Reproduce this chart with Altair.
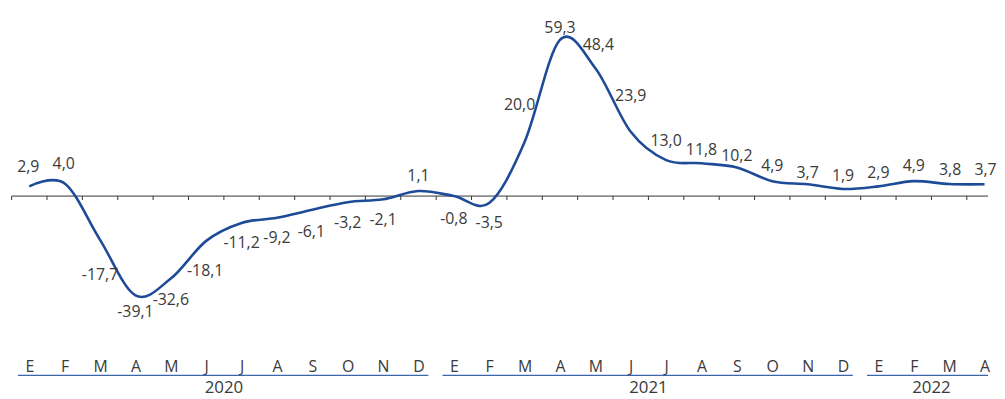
import altair as alt
import pandas as pd

# ---------------- data ----------------
months = ["E", "F", "M", "A", "M", "J", "J", "A", "S", "O", "N", "D",
          "E", "F", "M", "A", "M", "J", "J", "A", "S", "O", "N", "D",
          "E", "F", "M", "A"]
years = ["2020"] * 12 + ["2021"] * 12 + ["2022"] * 4
values = [2.9, 4.0, -17.7, -39.1, -32.6, -18.1, -11.2, -9.2, -6.1, -3.2, -2.1, 1.1,
          -0.8, -3.5, 20.0, 59.3, 48.4, 23.9, 13.0, 11.8, 10.2, 4.9, 3.7, 1.9,
          2.9, 4.9, 3.8, 3.7]
year_labels = ["2020", "2021", "2022"]

# ---------------- style ----------------
W, H = 989, 347
PX_X = 35.7          # pixels per month
PX_Y = 2.62          # pixels per unit
FIRST_X = 21.5       # px from plot left to first month centre
ZERO_Y = 185.8       # px from plot top to value 0
AXIS_Y = 188.0       # px from plot top to the category axis line
LINE_COLOR = "#1E4B98"
YEAR_COLOR = "#3C66AC"
TEXT_COLOR = "#3A3A3A"
FONT = "Open Sans"
FS = 16
FS_YEAR = 17

x_dom = [-FIRST_X / PX_X, (W - FIRST_X) / PX_X]
y_dom = [-(H - ZERO_Y) / PX_Y, ZERO_Y / PX_Y]

def py(px_from_top):
    """pixel row (plot coords) -> data value"""
    return (ZERO_Y - px_from_top) / PX_Y

# label offsets in pixels (dx, dy) relative to each point
label_offsets = [(-1, -19), (-1, -20), (0, 36), (0, 17), (0, 22), (-1, 30),
                 (0, 20), (0, 20), (-1, 23), (0, 21), (0, 21), (0, -15),
                 (0, 23), (0, 20), (-5, -37), (0, -12), (3, -23), (0, -36),
                 (0, -19), (0, -13), (0, -11), (0, -15), (0, -11), (0, -13),
                 (0, -13), (0, -15), (1, -14), (1, -14)]

n = len(values)
rows = []
for i, (m, yv, v) in enumerate(zip(months, years, values)):
    dx, dy = label_offsets[i]
    rows.append({"idx": i, "month": m, "year": yv, "value": v,
                 "label": f"{v:.1f}".replace(".", ","),
                 "lx": i + dx / PX_X, "ly": v - dy / PX_Y})
df = pd.DataFrame(rows)

ticks_df = pd.DataFrame({"b": [i - 0.5 for i in range(n)]})
zero_df = pd.DataFrame({"x": [-0.5], "x2": [n - 0.5]})

yr_rows = []
for y in year_labels:
    ids = [i for i, yy in enumerate(years) if yy == y]
    yr_rows.append({"year": y, "start": ids[0] - 0.32,
                    "end": min(ids[-1] + 0.28, x_dom[1]),
                    "center": (ids[0] + ids[-1]) / 2})
yr_df = pd.DataFrame(yr_rows)

xs = alt.Scale(domain=x_dom, nice=False, zero=False)
ys = alt.Scale(domain=y_dom, nice=False, zero=False)

month_str = "".join(months)
label_expr = f"substring('{month_str}', datum.value, datum.value + 1)"

AX = alt.Axis(values=list(range(n)), labelExpr=label_expr, ticks=False,
              tickSize=0, domain=False, grid=False, title=None,
              labelFont=FONT, labelFontSize=FS, labelColor=TEXT_COLOR,
              labelPadding=13, labelBaseline="middle",
              labelOverlap=False, labelFlush=False)

axis_val = py(AXIS_Y)

zero_rule = alt.Chart(zero_df).mark_rule(color="#333333", strokeWidth=1, clip=True).encode(
    x=alt.X("x:Q", scale=xs, axis=AX), x2="x2:Q",
    y=alt.Y(datum=axis_val, scale=ys, axis=None))

ticks = alt.Chart(ticks_df).mark_rule(color="#333333", strokeWidth=1).encode(
    x=alt.X("b:Q", scale=xs, axis=AX),
    y=alt.Y(datum=axis_val, scale=ys, axis=None),
    y2=alt.Y2(datum=py(AXIS_Y + 4)))

line = alt.Chart(df).mark_line(interpolate="cardinal", tension=0, color=LINE_COLOR,
                               strokeWidth=2.6).encode(
    x=alt.X("idx:Q", scale=xs, axis=AX),
    y=alt.Y("value:Q", scale=ys, axis=None))

labels = alt.Chart(df).mark_text(font=FONT, fontSize=FS, color=TEXT_COLOR,
                                 align="center", baseline="middle").encode(
    x=alt.X("lx:Q", scale=xs, axis=AX),
    y=alt.Y("ly:Q", scale=ys, axis=None),
    text="label:N")

year_rules = alt.Chart(yr_df).mark_rule(color=YEAR_COLOR, strokeWidth=1.2).encode(
    x=alt.X("start:Q", scale=xs, axis=AX), x2="end:Q",
    y=alt.Y(datum=py(377 - 8), scale=ys, axis=None))

year_text = alt.Chart(yr_df).mark_text(font=FONT, fontSize=FS_YEAR, color=TEXT_COLOR,
                                       align="center", baseline="middle").encode(
    x=alt.X("center:Q", scale=xs, axis=AX),
    y=alt.Y(datum=py(390 - 8), scale=ys, axis=None),
    text="year:N")

chart = alt.layer(zero_rule, ticks, line, labels, year_rules, year_text).properties(
    width=W, height=H, padding=0
).configure_view(strokeWidth=0)

chart.save("out.html", embed_options={"renderer": "svg", "actions": False})
